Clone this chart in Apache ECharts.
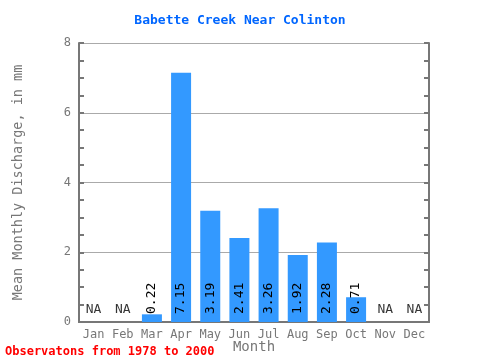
<!DOCTYPE html>
<html><head><meta charset="utf-8">
<script src="https://cdn.jsdelivr.net/npm/echarts@6/dist/echarts.min.js"></script>
<style>html,body{margin:0;padding:0;background:#fff}#c{width:480px;height:360px}</style>
</head><body><div id="c"></div>
<script>
var months = ['Jan','Feb','Mar','Apr','May','Jun','Jul','Aug','Sep','Oct','Nov','Dec'];
var values = [null,null,0.22,7.15,3.19,2.41,3.26,1.92,2.28,0.71,null,null];
var yTicks = [0,2,4,6,8];
var title = 'Babette Creek Near Colinton';
var footer = 'Observatons from 1978 to 2000';
var F = 'DejaVu Sans Mono, monospace';
var axisCol = '#777777';
var naData = values.map(function(v){ return v === null ? 0 : null; });
var chart = echarts.init(document.getElementById('c'), null, {renderer:'canvas'});
chart.setOption({
  animation:false,
  title:{text:title,left:'center',top:9,textStyle:{color:'#0066ff',fontFamily:F,fontSize:13,fontWeight:'bold'}},
  graphic:[{type:'text',left:5,top:346,style:{text:footer,fill:'#ff0000',font:'bold 12px '+F}}],
  grid:{left:79,right:51,top:43,bottom:38,containLabel:false,outerBoundsMode:'none'},
  xAxis:[{type:'category',data:months,position:'bottom',
    name:'Month',nameLocation:'middle',nameGap:18,nameMoveOverlap:false,nameTextStyle:{color:axisCol,fontFamily:F,fontSize:14},
    axisLine:{lineStyle:{color:axisCol,width:2}},
    axisTick:{inside:true,length:5,lineStyle:{color:axisCol,width:2}},
    axisLabel:{color:axisCol,fontFamily:F,fontSize:12,margin:7}},
   {type:'category',data:months,position:'top',
    axisLine:{lineStyle:{color:axisCol,width:2}},
    axisTick:{inside:true,length:5,lineStyle:{color:axisCol,width:2}},
    axisLabel:{show:false}}],
  yAxis:[{type:'value',min:yTicks[0],max:yTicks[yTicks.length-1],interval:2,position:'left',
    name:'Mean Monthly Discharge, in mm',nameLocation:'middle',nameGap:54,nameMoveOverlap:false,nameTextStyle:{color:axisCol,fontFamily:F,fontSize:13.5},
    axisLine:{show:true,lineStyle:{color:axisCol,width:2}},
    axisTick:{show:true,inside:true,length:5,lineStyle:{color:axisCol,width:2}},
    minorTick:{show:true,splitNumber:4,length:5,lineStyle:{color:axisCol,width:2}},
    splitLine:{show:true,lineStyle:{color:'#aaaaaa',width:1}},
    axisLabel:{color:axisCol,fontFamily:F,fontSize:12,margin:8}},
   {type:'value',min:yTicks[0],max:yTicks[yTicks.length-1],interval:2,position:'right',
    axisLine:{show:true,lineStyle:{color:axisCol,width:2}},
    axisTick:{show:true,inside:true,length:5,lineStyle:{color:axisCol,width:2}},
    minorTick:{show:true,splitNumber:4,length:5,lineStyle:{color:axisCol,width:2}},
    splitLine:{show:false},axisLabel:{show:false}}],
  series:[{type:'bar',data:values,barWidth:20,itemStyle:{color:'#3399ff'},
    label:{show:true,position:'insideBottom',rotate:90,align:'left',verticalAlign:'middle',distance:8,
      color:'#000',fontFamily:F,fontSize:13,formatter:function(p){return p.value.toFixed(2);}}},
   {type:'scatter',data:naData,symbolSize:0,silent:true,
    label:{show:true,position:'top',distance:6,color:'#000',fontFamily:F,fontSize:13,formatter:'NA'}}]
});
</script></body></html>
